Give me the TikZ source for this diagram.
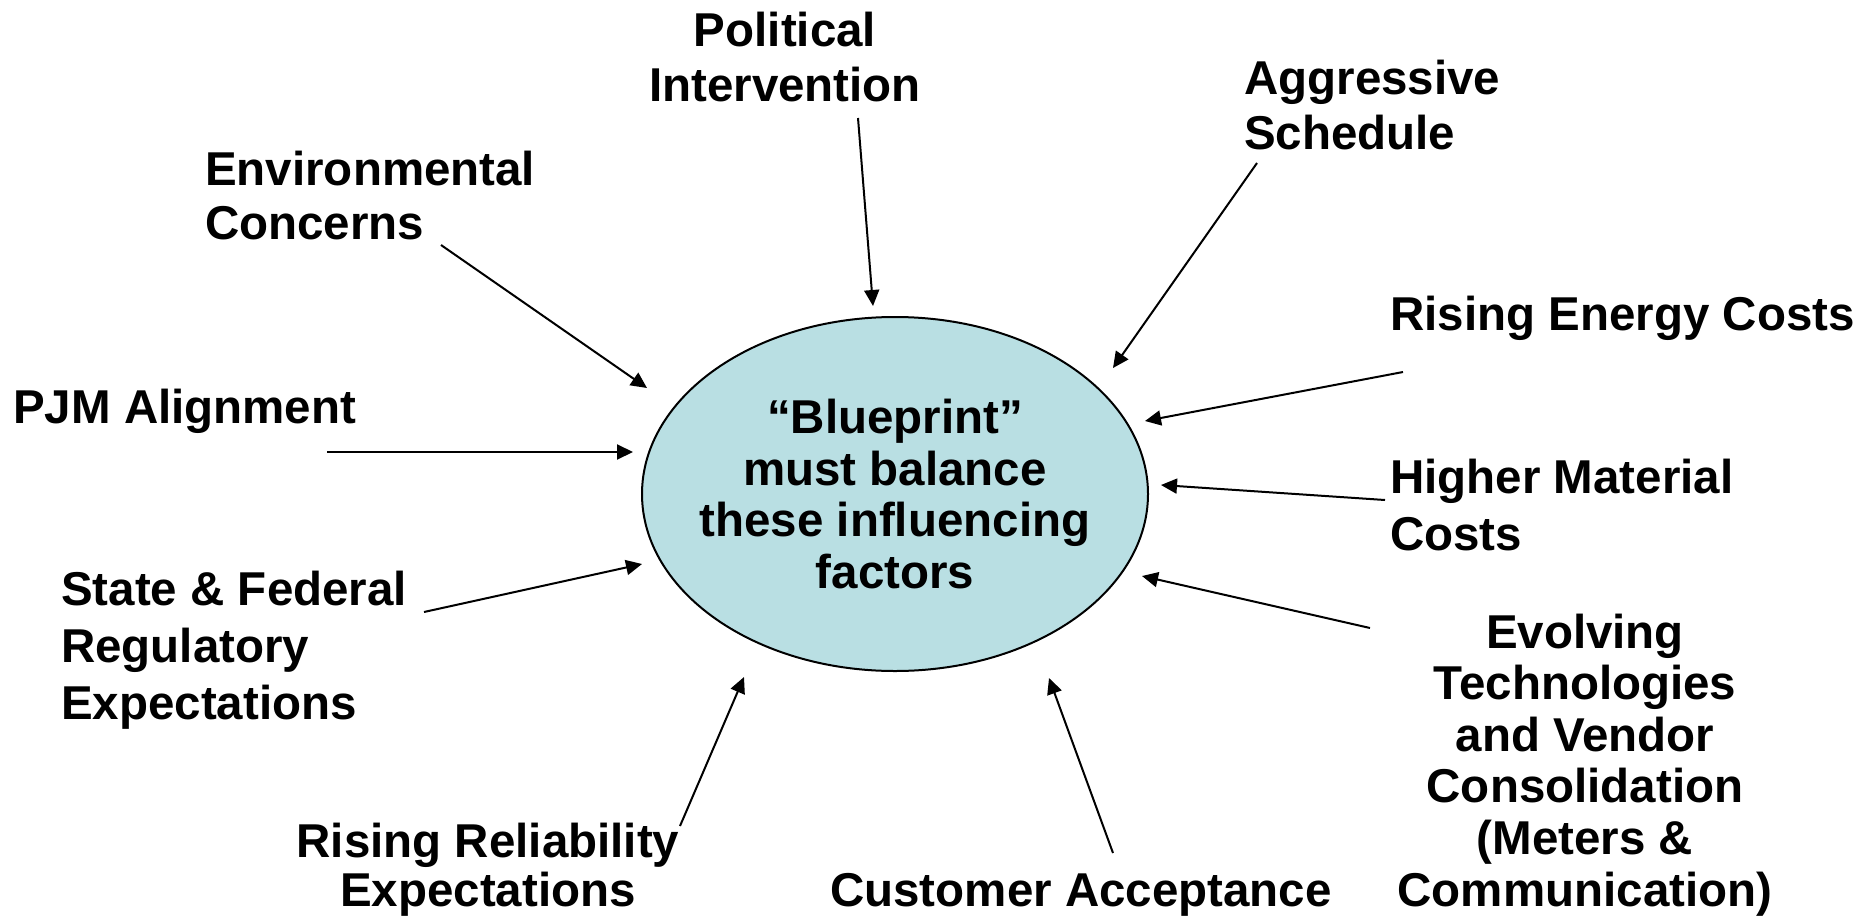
\documentclass[tikz,border=0pt]{standalone}
\usepackage{fontspec}
\setmainfont{Liberation Sans}
\usetikzlibrary{shapes.geometric,arrows.meta}
\definecolor{corefill}{RGB}{185,223,227}
\begin{document}
\begin{tikzpicture}[x=1pt,y=-1pt,
  lbl/.style={font=\fontsize{47.5}{#1}\selectfont\bfseries, inner sep=0pt, text=black},
  lbl/.default=55,
  core/.style={ellipse, draw=black, line width=2pt, fill=corefill,
    minimum width=506pt, minimum height=354pt, inner sep=0pt},
  push/.style={line width=2pt, -{Triangle[length=16pt,width=15pt]}}]
\useasboundingbox[fill=white] (0,0) rectangle (1858,918);

% central ellipse and its caption
\node[core] (core) at (895,494) {};
\node[lbl=51.6, align=center] (bp) at (core.center)
  {“Blueprint”\\must balance\\these influencing\\factors};

% influencing factors (multi-line labels sit on the baseline of their last line)
\node[lbl=55, align=center, anchor=base] (pol) at (785,101) {Political\\Intervention};
\node[lbl=54, align=left, anchor=base west] (env) at (205,239) {Environmental\\Concerns};
\node[lbl, anchor=base west] (pjm) at (13,423) {PJM Alignment};
\node[lbl=57, align=left, anchor=base west] (sfr) at (61,719) {State \& Federal\\Regulatory\\Expectations};
\node[lbl=49, align=center, anchor=base] (rel) at (488,906) {Rising Reliability\\Expectations};
\node[lbl, anchor=base west] (cus) at (830,906) {Customer Acceptance};
\node[lbl=51.6, align=center, anchor=base] (evo) at (1585,906)
  {Evolving\\Technologies\\and Vendor\\Consolidation\\(Meters \&\\Communication)};
\node[lbl=57, align=left, anchor=base west] (hig) at (1390,550) {Higher Material\\Costs};
\node[lbl, anchor=base west] (ene) at (1390,330) {Rising Energy Costs};
\node[lbl=55, align=left, anchor=base west] (agg) at (1244,149) {Aggressive\\Schedule};

% arrow ends
\coordinate (pol-s) at (858,118);  \coordinate (pol-t) at (873,306);
\coordinate (env-s) at (441,245);  \coordinate (env-t) at (647,388);
\coordinate (pjm-s) at (327,452);  \coordinate (pjm-t) at (633,452);
\coordinate (sfr-s) at (424,612);  \coordinate (sfr-t) at (642,564);
\coordinate (rel-s) at (680,826);  \coordinate (rel-t) at (744,677);
\coordinate (cus-s) at (1113,853); \coordinate (cus-t) at (1049,678);
\coordinate (evo-s) at (1370,628); \coordinate (evo-t) at (1142,576);
\coordinate (hig-s) at (1385,500); \coordinate (hig-t) at (1161,485);
\coordinate (ene-s) at (1403,372); \coordinate (ene-t) at (1145,421);
\coordinate (agg-s) at (1257,163); \coordinate (agg-t) at (1113,368);

% arrows pointing at the ellipse
\foreach \k in {pol,env,pjm,sfr,rel,cus,evo,hig,ene,agg}
  \draw[push] (\k-s) -- (\k-t);
\end{tikzpicture}
\end{document}
